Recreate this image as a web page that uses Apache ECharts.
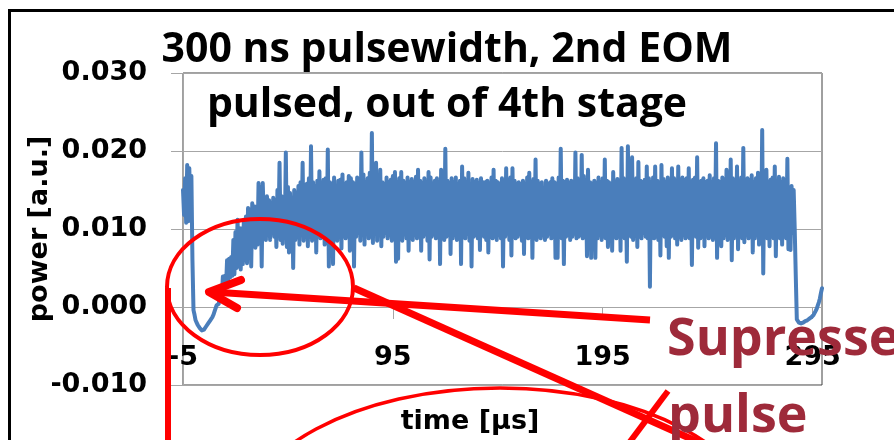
<!DOCTYPE html>
<html>
<head>
<meta charset="utf-8">
<script src="https://cdn.jsdelivr.net/npm/echarts@6/dist/echarts.min.js"></script>
<style>
  html, body { margin: 0; padding: 0; background: #fff; }
  #chart { width: 894px; height: 440px; }
</style>
</head>
<body>
<div id="chart"></div>
<script>
// text
const titleLines = ['300 ns pulsewidth, 2nd EOM', 'pulsed, out of 4th stage'];
const xName = 'time [µs]';
const yName = 'power [a.u.]';
const noteLines = ['Supressed', 'pulse'];

// axes
const xTickTimes = [-5, 95, 195, 295];
const yMin = -0.01, yMax = 0.03, yStep = 0.01;

// trace: one upper and one lower turning point per µs,
// first sample at t0, the lower point half a µs after the upper one
const t0 = -5;
const peakPower = [
  0.0150, 0.0165, 0.0182, 0.0178, 0.0168, -0.0004, -0.0017, -0.0023, -0.0027, -0.0030,
  -0.0029, -0.0025, -0.0021, -0.0017, -0.0013, -0.0006, 0.0002, 0.0004, 0.0018, 0.0039,
  0.0040, 0.0060, 0.0062, 0.0064, 0.0086, 0.0096, 0.0112, 0.0101, 0.0101, 0.0112,
  0.0116, 0.0127, 0.0125, 0.0133, 0.0129, 0.0129, 0.0159, 0.0154, 0.0159, 0.0133,
  0.0142, 0.0137, 0.0133, 0.0140, 0.0137, 0.0150, 0.0185, 0.0142, 0.0133, 0.0198,
  0.0154, 0.0146, 0.0140, 0.0150, 0.0146, 0.0155, 0.0160, 0.0185, 0.0150, 0.0158,
  0.0165, 0.0206, 0.0160, 0.0155, 0.0162, 0.0174, 0.0158, 0.0163, 0.0165, 0.0202,
  0.0160, 0.0158, 0.0166, 0.0155, 0.0162, 0.0163, 0.0170, 0.0158, 0.0160, 0.0168,
  0.0165, 0.0160, 0.0158, 0.0166, 0.0162, 0.0198, 0.0170, 0.0160, 0.0165, 0.0172,
  0.0223, 0.0168, 0.0185, 0.0165, 0.0176, 0.0160, 0.0158, 0.0166, 0.0160, 0.0163,
  0.0168, 0.0173, 0.0160, 0.0165, 0.0173, 0.0162, 0.0158, 0.0166, 0.0160, 0.0164,
  0.0160, 0.0167, 0.0176, 0.0162, 0.0158, 0.0165, 0.0160, 0.0173, 0.0166, 0.0158,
  0.0162, 0.0165, 0.0160, 0.0176, 0.0168, 0.0203, 0.0162, 0.0158, 0.0165, 0.0160,
  0.0166, 0.0158, 0.0162, 0.0180, 0.0165, 0.0160, 0.0172, 0.0158, 0.0164, 0.0160,
  0.0163, 0.0158, 0.0165, 0.0160, 0.0160, 0.0162, 0.0158, 0.0166, 0.0176, 0.0162,
  0.0160, 0.0158, 0.0165, 0.0162, 0.0178, 0.0160, 0.0166, 0.0178, 0.0162, 0.0158,
  0.0160, 0.0157, 0.0162, 0.0158, 0.0166, 0.0172, 0.0160, 0.0164, 0.0189, 0.0162,
  0.0158, 0.0160, 0.0150, 0.0162, 0.0158, 0.0160, 0.0165, 0.0160, 0.0158, 0.0166,
  0.0203, 0.0162, 0.0160, 0.0163, 0.0158, 0.0162, 0.0160, 0.0198, 0.0165, 0.0160,
  0.0195, 0.0168, 0.0162, 0.0176, 0.0160, 0.0158, 0.0162, 0.0159, 0.0166, 0.0160,
  0.0165, 0.0189, 0.0162, 0.0160, 0.0158, 0.0173, 0.0160, 0.0164, 0.0162, 0.0204,
  0.0165, 0.0160, 0.0206, 0.0162, 0.0192, 0.0160, 0.0165, 0.0186, 0.0162, 0.0160,
  0.0163, 0.0180, 0.0165, 0.0160, 0.0166, 0.0180, 0.0162, 0.0160, 0.0182, 0.0164,
  0.0160, 0.0166, 0.0162, 0.0178, 0.0165, 0.0160, 0.0180, 0.0163, 0.0166, 0.0162,
  0.0165, 0.0178, 0.0160, 0.0163, 0.0166, 0.0192, 0.0160, 0.0162, 0.0165, 0.0160,
  0.0162, 0.0169, 0.0160, 0.0165, 0.0210, 0.0162, 0.0160, 0.0166, 0.0163, 0.0176,
  0.0162, 0.0189, 0.0165, 0.0160, 0.0180, 0.0162, 0.0166, 0.0204, 0.0160, 0.0165,
  0.0162, 0.0169, 0.0160, 0.0165, 0.0172, 0.0162, 0.0227, 0.0165, 0.0176, 0.0160,
  0.0163, 0.0166, 0.0180, 0.0162, 0.0167, 0.0160, 0.0165, 0.0162, 0.0190, 0.0152,
  0.0155, 0.0150, 0.0040, -0.0018, -0.0021, -0.0020, -0.0019, -0.0017, -0.0016, -0.0014,
  -0.0012, -0.0008, -0.0002, 0.0006, 0.0018
];
const dipPower = [
  0.0118, 0.0108, 0.0110, 0.0125, 0.0060, -0.0010, -0.0020, -0.0025, -0.0029, -0.0030,
  -0.0028, -0.0024, -0.0020, -0.0016, -0.0010, -0.0004, 0.0000, 0.0002, 0.0012, 0.0020,
  0.0025, 0.0033, 0.0038, 0.0040, 0.0042, 0.0050, 0.0052, 0.0048, 0.0055, 0.0060,
  0.0056, 0.0068, 0.0052, 0.0084, 0.0076, 0.0080, 0.0099, 0.0052, 0.0111, 0.0086,
  0.0111, 0.0086, 0.0099, 0.0090, 0.0077, 0.0099, 0.0086, 0.0081, 0.0090, 0.0077,
  0.0070, 0.0080, 0.0050, 0.0086, 0.0090, 0.0080, 0.0095, 0.0085, 0.0092, 0.0078,
  0.0090, 0.0085, 0.0095, 0.0070, 0.0092, 0.0088, 0.0095, 0.0080, 0.0090, 0.0052,
  0.0088, 0.0055, 0.0095, 0.0085, 0.0092, 0.0075, 0.0095, 0.0088, 0.0093, 0.0072,
  0.0090, 0.0052, 0.0090, 0.0095, 0.0085, 0.0092, 0.0080, 0.0094, 0.0088, 0.0090,
  0.0082, 0.0095, 0.0085, 0.0092, 0.0078, 0.0090, 0.0095, 0.0088, 0.0092, 0.0085,
  0.0090, 0.0058, 0.0062, 0.0090, 0.0085, 0.0093, 0.0088, 0.0072, 0.0095, 0.0086,
  0.0092, 0.0088, 0.0095, 0.0072, 0.0090, 0.0094, 0.0085, 0.0061, 0.0090, 0.0093,
  0.0088, 0.0090, 0.0055, 0.0092, 0.0086, 0.0090, 0.0094, 0.0068, 0.0088, 0.0092,
  0.0086, 0.0090, 0.0055, 0.0092, 0.0088, 0.0094, 0.0085, 0.0052, 0.0090, 0.0092,
  0.0088, 0.0073, 0.0092, 0.0090, 0.0086, 0.0070, 0.0094, 0.0088, 0.0090, 0.0086,
  0.0092, 0.0088, 0.0052, 0.0090, 0.0094, 0.0086, 0.0066, 0.0092, 0.0088, 0.0090,
  0.0094, 0.0085, 0.0068, 0.0092, 0.0088, 0.0090, 0.0063, 0.0092, 0.0086, 0.0090,
  0.0088, 0.0092, 0.0086, 0.0090, 0.0094, 0.0088, 0.0090, 0.0063, 0.0063, 0.0092,
  0.0088, 0.0055, 0.0090, 0.0092, 0.0086, 0.0090, 0.0094, 0.0088, 0.0090, 0.0092,
  0.0088, 0.0090, 0.0065, 0.0092, 0.0063, 0.0090, 0.0063, 0.0088, 0.0092, 0.0086,
  0.0090, 0.0088, 0.0077, 0.0092, 0.0072, 0.0090, 0.0088, 0.0094, 0.0072, 0.0090,
  0.0088, 0.0058, 0.0092, 0.0090, 0.0086, 0.0092, 0.0077, 0.0090, 0.0088, 0.0095,
  0.0090, 0.0088, 0.0026, 0.0092, 0.0088, 0.0090, 0.0086, 0.0066, 0.0092, 0.0090,
  0.0078, 0.0063, 0.0090, 0.0092, 0.0088, 0.0080, 0.0090, 0.0086, 0.0092, 0.0088,
  0.0090, 0.0088, 0.0054, 0.0092, 0.0090, 0.0076, 0.0088, 0.0090, 0.0078, 0.0092,
  0.0088, 0.0090, 0.0086, 0.0092, 0.0063, 0.0090, 0.0078, 0.0088, 0.0092, 0.0086,
  0.0090, 0.0060, 0.0088, 0.0092, 0.0074, 0.0090, 0.0088, 0.0083, 0.0092, 0.0088,
  0.0090, 0.0070, 0.0088, 0.0092, 0.0080, 0.0088, 0.0043, 0.0090, 0.0088, 0.0078,
  0.0090, 0.0088, 0.0065, 0.0092, 0.0088, 0.0080, 0.0090, 0.0088, 0.0074, 0.0073,
  0.0095, 0.0100, -0.0016, -0.0020, -0.0021, -0.0020, -0.0018, -0.0017, -0.0015, -0.0013,
  -0.0010, -0.0005, 0.0002, 0.0011, 0.0024
];

const trace = [];
peakPower.forEach((p, i) => {
  trace.push([t0 + i, p]);
  trace.push([t0 + i + 0.5, dipPower[i]]);
});

const axisText = { fontFamily: 'DejaVu Sans', fontWeight: 'bold', fontSize: 27, color: '#000' };
const titleText = { fontFamily: 'Open Sans', fontWeight: 'bold', fontSize: 41, color: '#000' };
const red = '#FF0000';

const chart = echarts.init(document.getElementById('chart'), null, { renderer: 'canvas' });
chart.setOption({
  animation: false,
  backgroundColor: '#fff',
  title: [
    { text: titleLines[0], left: 'center', top: 30, padding: [0, 0, 0, 10], textStyle: titleText },
    { text: titleLines[1], left: 'center', top: 85, padding: [0, 0, 0, 14], textStyle: titleText }
  ],
  grid: {
    left: 183, right: 72, top: 73, bottom: 55,
    outerBoundsMode: 'none', containLabel: false,
    show: true, borderColor: '#404040', borderWidth: 1
  },
  xAxis: {
    type: 'value', min: t0, max: 299.5,
    position: 'bottom', offset: -78,   // the time axis crosses at power 0
    name: xName, nameLocation: 'middle', nameGap: 101, nameMoveOverlap: false,
    nameTextStyle: Object.assign({}, axisText, { padding: [0, 65, 0, 0] }),
    axisLine: { onZero: false, lineStyle: { color: '#A6A6A6', width: 1 } },
    axisTick: { customValues: xTickTimes, length: 12, lineStyle: { color: '#A6A6A6' } },
    axisLabel: Object.assign({ customValues: xTickTimes, margin: 37 }, axisText),
    splitLine: { show: false }
  },
  yAxis: {
    type: 'value', min: yMin, max: yMax, interval: yStep,
    name: yName, nameLocation: 'middle', nameGap: 130, nameRotate: 90, nameMoveOverlap: false,
    nameTextStyle: axisText,
    axisLine: { show: true, onZero: false, lineStyle: { color: '#A6A6A6', width: 1 } },
    axisTick: { show: true, length: 12, lineStyle: { color: '#A6A6A6' } },
    axisLabel: Object.assign({ margin: 36, padding: [6, 0, 0, 0], formatter: v => v.toFixed(3) }, axisText),
    splitLine: { lineStyle: { color: '#A6A6A6', width: 1 } }
  },
  series: [{
    type: 'line', data: trace, showSymbol: false, symbol: 'none',
    lineStyle: { color: '#4A7EBB', width: 4, join: 'round', cap: 'round' },
    z: 3
  }],
  graphic: [
    { type: 'rect', z: 90, shape: { x: 9.5, y: 10.5, width: 900, height: 440 },
      style: { fill: 'none', stroke: '#000', lineWidth: 3 } },
    { type: 'ellipse', z: 100, shape: { cx: 260, cy: 287, rx: 93, ry: 68 },
      style: { fill: 'none', stroke: red, lineWidth: 4 } },
    { type: 'ellipse', z: 100, shape: { cx: 500, cy: 528, rx: 260, ry: 140 },
      style: { fill: 'none', stroke: red, lineWidth: 3.5 } },
    { type: 'line', z: 100, shape: { x1: 168, y1: 288, x2: 168, y2: 445 },
      style: { stroke: red, lineWidth: 6 } },
    { type: 'line', z: 100, shape: { x1: 650, y1: 320, x2: 212, y2: 292 },
      style: { stroke: red, lineWidth: 7 } },
    { type: 'polyline', z: 100, shape: { points: [[241, 280], [209, 292], [237, 308]] },
      style: { fill: 'none', stroke: red, lineWidth: 8, lineCap: 'round', lineJoin: 'round' } },
    { type: 'line', z: 100, shape: { x1: 354, y1: 288, x2: 716, y2: 450 },
      style: { stroke: red, lineWidth: 7 } },
    { type: 'line', z: 100, shape: { x1: 668, y1: 391, x2: 626, y2: 447 },
      style: { stroke: red, lineWidth: 6 } },
    { type: 'text', z: 110, x: 667, y: 340,
      style: { text: noteLines[0], font: 'bold 52px "Open Sans"', fill: '#9E2A3A', textAlign: 'left', textVerticalAlign: 'middle' } },
    { type: 'text', z: 110, x: 668, y: 417,
      style: { text: noteLines[1], font: 'bold 52px "Open Sans"', fill: '#9E2A3A', textAlign: 'left', textVerticalAlign: 'middle' } }
  ]
});
</script>
</body>
</html>
